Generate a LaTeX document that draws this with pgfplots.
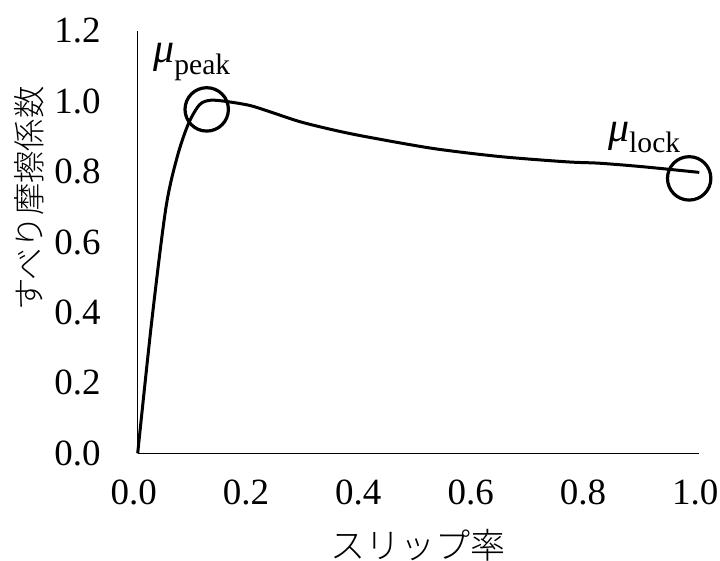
\documentclass[border=0pt]{standalone}
\usepackage{pgfplots}
\pgfplotsset{compat=1.18}
\usepackage{fontspec}
\setmainfont{Liberation Serif}
\newfontfamily\cjk{Noto Sans CJK JP Light}
\begin{document}
\begin{tikzpicture}
\begin{axis}[
  scale only axis, width=280.8pt, height=211.2pt,
  xmin=0, xmax=1, ymin=0, ymax=1.2,
  axis lines=left, axis line style={-, line width=0.7pt},
  xtick={0,0.2,0.4,0.6,0.8,1.0},
  ytick={0,0.2,0.4,0.6,0.8,1.0,1.2},
  major tick length=0pt,
  tick label style={font=\fontsize{18.5}{18.5}\selectfont,
    /pgf/number format/fixed, /pgf/number format/fixed zerofill,
    /pgf/number format/precision=1, /pgf/number format/assume math mode=true},
  yticklabel style={xshift=-15pt},
  xticklabel style={yshift=-10pt, xshift=-2pt},
  clip=false,
]
\addplot[smooth, line width=1.5pt, black] coordinates {
(0,0) (0.025,0.375) (0.05,0.695) (0.07,0.84) (0.09,0.935)
(0.11,0.99) (0.13,1.003) (0.16,0.999) (0.2,0.988)
(0.236,0.970) (0.289,0.942) (0.35,0.918) (0.408,0.899) (0.526,0.866)
(0.645,0.843) (0.764,0.828) (0.823,0.824) (0.9,0.814) (1.0,0.798)
};
\draw[line width=1.6pt] (axis cs:0.1229,0.977) circle[radius=10.85pt];
\draw[line width=1.6pt] (axis cs:0.982,0.781) circle[radius=10.85pt];
\node[anchor=base west, inner sep=0pt] at (axis cs:0.027,1.110)
  {{\fontsize{21}{21}\selectfont\itshape μ}\raisebox{-5.8pt}{\fontsize{14.8}{14.8}\selectfont peak}};
\node[anchor=base west, inner sep=0pt] at (axis cs:0.837,0.887)
  {{\fontsize{21}{21}\selectfont\itshape μ}\raisebox{-5.8pt}{\fontsize{14.8}{14.8}\selectfont lock}};
\node[rotate=90, inner sep=0pt, font=\cjk\fontsize{16.2}{16.2}\selectfont] at (rel axis cs:-0.1936,0.603) {すべり摩擦係数};
\node[inner sep=0pt, font=\cjk\fontsize{17.5}{17.5}\selectfont] at (rel axis cs:0.5,-0.217) {スリップ率};
\coordinate (O) at (rel axis cs:0,0);
\end{axis}
\pgfresetboundingbox
\path[use as bounding box] (O) ++(-68.85pt,-53.85pt) rectangle ++(360pt,280.5pt);
\end{tikzpicture}
\end{document}
